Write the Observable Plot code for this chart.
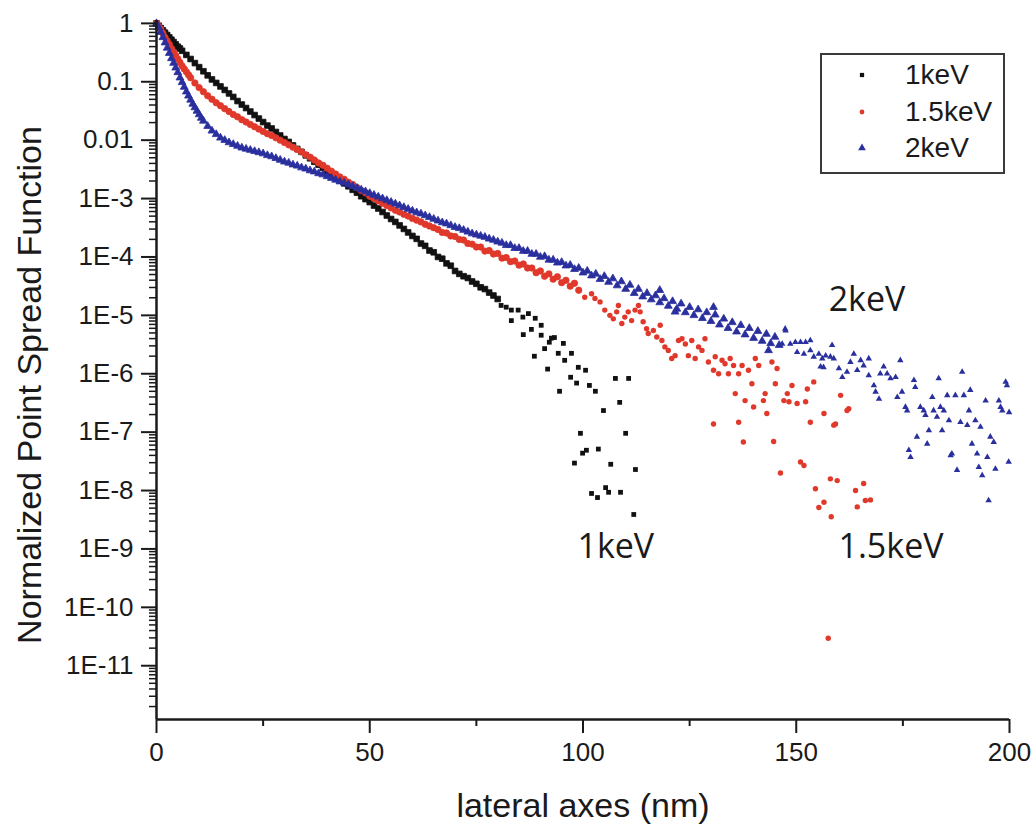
<!DOCTYPE html>
<html><head><meta charset="utf-8">
<script src="https://cdn.jsdelivr.net/npm/d3@7"></script>
<script src="https://cdn.jsdelivr.net/npm/@observablehq/plot@0.6"></script>
<style>
body{margin:0;background:#fff;}
#wrap{position:relative;width:1036px;height:825px;}
#legend{position:absolute;left:820px;top:53px;width:181px;height:117px;border:2px solid #3a3a3a;background:#fff;font-family:"Liberation Sans",Arial,sans-serif;font-size:28px;color:#1a1a1a;}
.lrow{position:absolute;left:0;width:181px;height:36px;}
.lrow svg{position:absolute;left:34px;top:12px;}
.lrow span{position:absolute;left:83px;top:0;line-height:36px;}
</style></head>
<body><div id="wrap"><div id="legend"></div></div>
<script>
// ---- data: [lateral position (nm), log10(normalized PSF)] ----
const psf1keV = [[0,0],[0.5,-0.04],[1,-0.08],[1.5,-0.12],[2,-0.16],[2.5,-0.2],[3,-0.24],[3.5,-0.28],[4,-0.32],[4.5,-0.36],[5,-0.4],[5.5,-0.43],[6,-0.47],[7,-0.54],[8,-0.61],[9,-0.68],[10,-0.75],[11,-0.82],[12,-0.89],[13,-0.96],[14,-1.02],[15,-1.08],[16,-1.14],[17,-1.2],[18,-1.26],[19,-1.33],[20,-1.39],[21,-1.45],[22,-1.51],[23,-1.57],[24,-1.63],[25,-1.69],[26,-1.75],[27,-1.8],[28,-1.86],[29,-1.92],[30,-1.98],[31,-2.03],[32,-2.09],[33,-2.15],[34,-2.2],[35,-2.26],[36,-2.31],[37,-2.37],[38,-2.42],[39,-2.47],[40,-2.53],[41,-2.58],[42,-2.63],[43,-2.69],[44,-2.74],[45,-2.79],[46,-2.85],[47,-2.9],[48,-2.96],[49,-3.01],[50,-3.06],[51,-3.12],[52,-3.17],[53,-3.23],[54,-3.29],[55,-3.35],[56,-3.4],[57,-3.46],[58,-3.52],[59,-3.58],[60,-3.64],[61,-3.69],[62,-3.77],[63,-3.81],[64,-3.89],[65,-3.92],[66,-4.0],[67,-4.03],[68,-4.11],[69,-4.15],[70,-4.24],[71,-4.29],[72,-4.33],[73,-4.36],[74,-4.42],[75,-4.46],[76,-4.52],[77,-4.55],[78,-4.61],[79,-4.66],[80,-4.72],
[80.8,-4.83],[82.0,-4.86],[83.2,-4.91],[84.8,-4.91],[87.2,-4.97],[83.2,-5.09],[85.9,-5.03],[88.8,-5.05],[86.0,-5.33],[87.9,-5.24],[90.2,-5.17],[90.2,-5.34],[92.6,-5.39],[93.3,-5.38],[92.1,-5.46],[91.0,-5.57],[95.4,-5.48],[94.2,-5.65],[97.3,-5.65],[95.7,-5.77],[88.6,-5.7],[91.7,-5.92],[98.9,-5.89],[100.6,-5.94],[97.1,-6.06],[98.5,-6.16],[101.5,-6.2],[102.9,-6.3],[94.5,-6.3],[107.6,-6.08],[110.7,-6.08],[108.6,-6.49],[104.8,-6.63],[99.4,-7.02],[110.0,-7.02],[100.8,-7.31],[99.9,-7.36],[103.6,-7.29],[98.0,-7.53],[106.5,-7.55],[112.3,-7.64],[105.3,-7.95],[102.0,-8.05],[106.0,-8.03],[103.4,-8.12],[108.8,-8.03],[111.9,-8.41]];

const psf15keV = [[0,0],[0.5,-0.05],[1,-0.1],[1.5,-0.17],[2,-0.24],[2.5,-0.3],[3,-0.36],[3.5,-0.43],[4,-0.49],[4.5,-0.55],[5,-0.61],[5.5,-0.67],[6,-0.73],[6.5,-0.78],[7,-0.83],[7.5,-0.88],[8,-0.93],[9,-1.02],[10,-1.1],[11,-1.17],[12,-1.24],[13,-1.3],[14,-1.36],[15,-1.41],[16,-1.46],[17,-1.51],[18,-1.56],[19,-1.6],[20,-1.65],[21,-1.69],[22,-1.73],[23,-1.77],[24,-1.81],[25,-1.85],[26,-1.89],[27,-1.92],[28,-1.96],[29,-2.0],[30,-2.04],[31,-2.08],[32,-2.12],[33,-2.16],[34,-2.2],[35,-2.25],[36,-2.29],[37,-2.34],[38,-2.39],[39,-2.43],[40,-2.48],[41,-2.53],[42,-2.58],[43,-2.63],[44,-2.67],[45,-2.72],[46,-2.76],[47,-2.81],[48,-2.86],[49,-2.9],[50,-2.96],[51,-3.0],[52,-3.04],[53,-3.08],[54,-3.12],[55,-3.16],[56,-3.2],[57,-3.23],[58,-3.27],[59,-3.3],[60,-3.34],[61,-3.37],[62,-3.4],[63,-3.44],[64,-3.47],[65,-3.5],[66,-3.53],[67,-3.58],[68,-3.59],[69,-3.64],[70,-3.65],[71,-3.7],[72,-3.71],[73,-3.77],[74,-3.78],[75,-3.83],[76,-3.83],[77,-3.9],[78,-3.89],[79,-3.95],[80,-3.94],[81,-4.02],[82,-4.01],[83,-4.08],[84,-4.07],[85,-4.14],[86,-4.12],[87,-4.19],[88,-4.19],[89,-4.27],[90,-4.24],[91,-4.33],[92,-4.29],[93,-4.38],[94,-4.34],[95,-4.44],[96,-4.4],[97,-4.5],[98,-4.45],[99,-4.57],
[100.4,-4.69],[102.0,-4.63],[102.8,-4.71],[104.0,-4.77],[105.1,-4.91],[106.3,-5.0],[107.1,-5.06],[107.9,-4.94],[108.3,-4.83],[109.1,-5.14],[109.8,-5.03],[110.6,-4.94],[111.4,-5.09],[112.2,-4.91],[113.0,-4.83],[113.4,-4.94],[114.1,-5.11],[114.9,-5.23],[115.3,-5.31],[116.5,-5.26],[117.3,-5.37],[118.1,-5.17],[118.5,-5.43],[119.2,-5.54],[120.0,-5.6],[120.8,-5.74],[121.6,-5.69],[122.4,-5.43],[123.2,-5.4],[124.0,-5.49],[124.7,-5.69],[125.5,-5.43],[126.3,-5.74],[127.1,-5.54],[127.9,-5.6],[128.6,-5.4],[129.4,-5.8],[130.6,-5.94],[131.0,-5.71],[131.8,-6.0],[132.6,-5.77],[133.3,-5.83],[134.1,-6.0],[134.5,-5.74],[135.3,-5.86],[135.7,-6.34],[136.5,-6.0],[137.3,-5.86],[138.0,-6.46],[138.8,-5.94],[139.6,-6.17],[140.0,-6.57],[140.4,-5.74],[141.2,-5.86],[142.3,-6.46],[142.7,-6.34],[143.1,-6.68],[144.3,-5.8],[145.1,-6.17],[145.5,-5.91],[130.6,-6.86],[136.5,-6.83],
[137.6,-7.17],[144.7,-7.16],[146.3,-7.7],[155.3,-8.29],[158.2,-8.45],[157.5,-10.53],
[149.0,-6.2],[147.9,-6.34],[147.1,-6.46],[148.3,-6.48],[150.2,-6.51],[152.2,-6.48],[152.6,-6.26],[154.1,-6.14],[156.5,-6.68],[153.3,-6.83],[158.8,-6.88],[159.2,-6.86],[160.4,-6.37],[161.9,-6.63],[162.3,-6.6],[151.0,-7.51],[151.8,-7.57],[158.0,-7.8],[159.6,-7.83],[154.5,-7.97],[156.5,-8.2],[163.9,-8.0],[165.8,-7.88],[166.2,-8.17],[167.4,-8.16],[164.3,-8.28]];

const psf2keV = [[0,0],[0.5,-0.07],[1,-0.15],[1.5,-0.24],[2,-0.33],[2.5,-0.42],[3,-0.51],[3.5,-0.6],[4,-0.68],[4.5,-0.76],[5,-0.84],[5.5,-0.93],[6,-1.01],[6.5,-1.09],[7,-1.17],[7.5,-1.24],[8,-1.31],[8.5,-1.38],[9,-1.44],[9.5,-1.5],[10,-1.56],[10.5,-1.62],[11,-1.67],[12,-1.76],[13,-1.84],[14,-1.9],[15,-1.96],[16,-2.0],[17,-2.04],[18,-2.07],[19,-2.1],[20,-2.13],[21,-2.15],[22,-2.17],[23,-2.19],[24,-2.21],[25,-2.23],[26,-2.26],[27,-2.28],[28,-2.31],[29,-2.34],[30,-2.37],[31,-2.39],[32,-2.42],[33,-2.44],[34,-2.47],[35,-2.49],[36,-2.52],[37,-2.54],[38,-2.57],[39,-2.59],[40,-2.62],[41,-2.65],[42,-2.68],[43,-2.71],[44,-2.73],[45,-2.76],[46,-2.79],[47,-2.82],[48,-2.85],[49,-2.88],[50,-2.91],[51,-2.94],[52,-2.97],[53,-3.0],[54,-3.03],[55,-3.06],[56,-3.09],[57,-3.12],[58,-3.15],[59,-3.18],[60,-3.21],[61,-3.24],[62,-3.26],[63,-3.29],[64,-3.32],[65,-3.35],[66,-3.38],[67,-3.41],[68,-3.43],[69,-3.46],[70,-3.49],[71,-3.51],[72,-3.54],[73,-3.57],[74,-3.6],[75,-3.62],[76,-3.64],[77,-3.66],[78,-3.69],[79,-3.71],[80,-3.74],[81,-3.76],[82,-3.8],[83,-3.8],[84,-3.85],[85,-3.85],[86,-3.9],[87,-3.9],[88,-3.95],[89,-3.95],[90,-4.0],[91,-3.99],[92,-4.05],[93,-4.05],[94,-4.1],[95,-4.09],[96,-4.15],[97,-4.14],[98,-4.21],[99,-4.19],[100,-4.27],[101,-4.24],[102,-4.32],[103,-4.29],[104,-4.38],[105,-4.33],[106,-4.43],[107,-4.37],[108,-4.49],[109,-4.42],[110,-4.55],[111,-4.48],[112,-4.62],[113,-4.55],[114,-4.68],[115,-4.62],[116,-4.73],[117,-4.66],[118,-4.78],[119,-4.71],[120,-4.84],[121,-4.76],[122,-4.89],[123,-4.8],[124,-4.95],[125,-4.86],[126,-5.0],[127,-4.9],[128,-5.05],[129,-4.95],[130,-5.1],[131,-4.99],[132,-5.16],[133,-5.06],[134,-5.22],[135,-5.12],[136,-5.28],[137,-5.17],[138,-5.33],[139,-5.22],[140,-5.39],[141,-5.27],[142,-5.44],[143,-5.32],[144,-5.48],[145,-5.37],[146,-5.51],
[118.0,-4.57],[130.6,-4.86],[121.6,-4.94],[143.5,-5.6],[147.4,-5.23],[156.4,-5.89],
[147.5,-5.26],[146.7,-5.49],[148.6,-5.49],[149.8,-5.46],[151.0,-5.46],[152.2,-5.46],[153.3,-5.43],[150.2,-5.63],[151.8,-5.66],[153.3,-5.6],[154.1,-5.71],[155.3,-5.66],[156.1,-5.74],[155.7,-5.88],[156.9,-5.69],[158.4,-5.51],[158.0,-5.71],[158.8,-5.74],[160.0,-5.91],[160.8,-6.06],[161.9,-5.97],[162.7,-5.8],[163.5,-5.66],[164.3,-5.94],[165.1,-5.77],[165.8,-5.86],[167.0,-5.74],[167.0,-6.03],[168.2,-6.2],[168.6,-6.31],[169.4,-6.43],[169.7,-6.0],[170.5,-5.88],[171.3,-6.0],[172.1,-6.08],[173.3,-6.06],[173.7,-6.4],[174.4,-5.77],[174.8,-6.31],[175.6,-6.57],[176.0,-6.63],[177.6,-6.11],[177.9,-6.23],[178.3,-7.08],[176.4,-7.31],[176.8,-7.43],[179.1,-6.57],[179.9,-6.63],[180.3,-6.71],[181.1,-6.97],[180.7,-7.2],[181.9,-6.4],[182.2,-6.63],[183.0,-6.74],[183.4,-6.08],[183.8,-6.57],[184.2,-6.97],[184.6,-6.63],[185.4,-6.37],[185.8,-6.8],[186.5,-7.37],[186.2,-7.4],[187.3,-6.37],[187.7,-7.65],[188.5,-6.83],[188.9,-5.97],[189.3,-6.37],[190.1,-6.88],[190.5,-6.63],[190.8,-6.28],[191.2,-7.2],[192.0,-6.8],[192.4,-7.37],[193.2,-6.91],[193.6,-7.74],[192.8,-7.6],[194.4,-6.46],[194.8,-7.43],[195.5,-7.08],[196.3,-7.17],[196.7,-7.63],[197.5,-6.46],[197.9,-6.57],[198.3,-6.63],[199.1,-6.14],[199.4,-6.2],[199.8,-7.51],[195.1,-8.17],[199.9,-6.66]];

const seriesNames = ["1keV", "1.5keV", "2keV"];
const seriesColors = ["#111111", "#e0392b", "#2a2f9e"];
const seriesSymbols = ["square", "circle", "triangle"];
// x up to which each series forms a dense band in the reference
const denseUntil = [80, 99, 146];

const xMajor = [0, 50, 100, 150, 200];
const xMinor = [25, 75, 125, 175];
const yMajor = [1, 0.1, 0.01, 1e-3, 1e-4, 1e-5, 1e-6, 1e-7, 1e-8, 1e-9, 1e-10, 1e-11];
const yTickLabels = ["1", "0.1", "0.01", "1E-3", "1E-4", "1E-5", "1E-6", "1E-7", "1E-8", "1E-9", "1E-10", "1E-11"];

const annotLabels = ["2keV", "1keV", "1.5keV"];
const annotX = [157.6, 98.7, 159.9];
const annotY = [1.8e-5, 1.07e-9, 1.07e-9];

const xTitle = "lateral axes (nm)";
const yTitle = "Normalized Point Spread Function";

// ---- build ----
const yDomain = [1.2e-12, 1.12];
const labelOf = new Map(yMajor.map((v, i) => [v, yTickLabels[i]]));
const yMinor = [];
for (let k = -12; k <= 0; k++) for (const m of [2,3,4,5,6,7,8,9]) {
  const v = m * Math.pow(10, k);
  if (v >= yDomain[0] && v <= yDomain[1]) yMinor.push(v);
}
const allSeries = [psf1keV, psf15keV, psf2keV];
const tables = allSeries.map(pts => pts.map(([x, e]) => ({x, y: Math.pow(10, e)})));
const radiiDense = [3.2, 3.2, 2.9];
const radiiSparse = [2.7, 2.7, 2.4];
const annots = annotLabels.map((t, i) => ({t, x: annotX[i], y: annotY[i]}));

const dotMarks = tables.flatMap((t, i) => [
  Plot.dot(t.filter(d => d.x <= denseUntil[i]), {x: "x", y: "y", symbol: () => seriesSymbols[i], r: radiiDense[i], fill: seriesColors[i], stroke: seriesColors[i], strokeWidth: 0.8}),
  Plot.dot(t.filter(d => d.x > denseUntil[i]), {x: "x", y: "y", symbol: () => seriesSymbols[i], r: radiiSparse[i], fill: seriesColors[i], stroke: "none"})
]);

const chart = Plot.plot({
  width: 1036, height: 825,
  marginLeft: 156, marginRight: 27, marginTop: 20, marginBottom: 106,
  style: {fontFamily: '"Liberation Sans", Arial, sans-serif', fontSize: "25px", color: "#1a1a1a", background: "#fff"},
  x: {domain: [0, 200]},
  y: {type: "log", domain: yDomain},
  marks: [
    ...dotMarks,
    Plot.axisX(xMajor, {tickSize: 14, tickPadding: 9, tickFormat: d => String(d), strokeWidth: 2, label: null}),
    Plot.axisX(xMinor, {tickSize: 7, tickFormat: () => "", strokeWidth: 2, label: null}),
    Plot.axisY(yMajor, {tickSize: 15, tickPadding: 8, tickFormat: d => labelOf.get(d), strokeWidth: 2, label: null}),
    Plot.axisY(yMinor, {tickSize: 7, tickFormat: () => "", strokeWidth: 1.5, label: null}),
    Plot.ruleX([0], {stroke: "#1a1a1a", strokeWidth: 2.5}),
    Plot.ruleY([yDomain[0]], {stroke: "#1a1a1a", strokeWidth: 2.5}),
    Plot.text(annots, {x: "x", y: "y", text: "t", textAnchor: "start", lineAnchor: "middle", fontFamily: '"Open Sans", sans-serif', fontSize: 34, fill: "#1a1a1a"}),
    Plot.text([xTitle], {frameAnchor: "bottom", textAnchor: "middle", lineAnchor: "middle", dy: 87, fontSize: 34, fill: "#1a1a1a"}),
    Plot.text([yTitle], {frameAnchor: "left", textAnchor: "middle", lineAnchor: "middle", rotate: -90, dx: -126, dy: 15, fontSize: 34, fill: "#1a1a1a"})
  ]
});
// enlarge the tick labels (axis text groups)
chart.querySelectorAll('g[aria-label$="tick label"]').forEach(g => {
  g.setAttribute("font-size", "26");
  g.style.fontSize = "26px";
  g.querySelectorAll("text").forEach(t => { t.style.fontSize = "26px"; });
});
document.getElementById("wrap").prepend(chart);

// legend
const legend = document.getElementById("legend");
const rowTops = [2, 39, 75];
seriesNames.forEach((name, i) => {
  const row = document.createElement("div");
  row.className = "lrow";
  row.style.top = rowTops[i] + "px";
  const sym = d3.symbol().type(i === 0 ? d3.symbolSquare : i === 1 ? d3.symbolCircle : d3.symbolTriangle).size(i === 2 ? 26 : 18)();
  row.innerHTML = `<svg width="12" height="12" viewBox="-6 -6 12 12"><path d="${sym}" fill="${seriesColors[i]}"/></svg><span>${name}</span>`;
  legend.appendChild(row);
});
</script>
</body></html>
